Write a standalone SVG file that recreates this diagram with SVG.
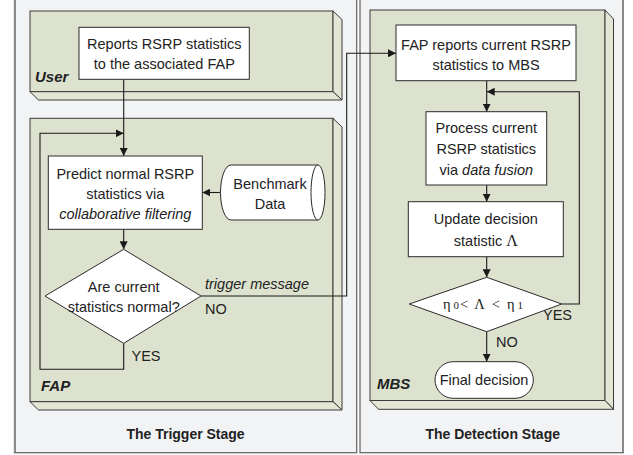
<svg xmlns="http://www.w3.org/2000/svg" width="633" height="455" viewBox="0 0 633 455">
<defs>
<style>
.stage{fill:#f2f3f5;stroke:#6a6a6a;stroke-width:1.3}
.pf{fill:#dde2cf;stroke:#3a3a3a;stroke-width:1}
.ps{fill:#e2e7d5;stroke:#3a3a3a;stroke-width:1}
.node{fill:#ffffff;stroke:#2a2a2a;stroke-width:1}
.ln{fill:none;stroke:#1a1a1a;stroke-width:1.1}
text{font-family:"Liberation Sans",Arial,sans-serif;font-size:14.5px;fill:#222}
.c{text-anchor:middle}
.it{font-style:italic}
.lbl{font-weight:bold;font-style:italic;font-size:15px}
.st{font-weight:bold;font-size:14px;text-anchor:middle}
.ser{font-family:"Liberation Serif","Times New Roman",serif}
</style>
<marker id="ah" viewBox="0 0 10 10" refX="10" refY="5" markerWidth="8" markerHeight="8" markerUnits="userSpaceOnUse" orient="auto">
<path d="M0,0 L10,5 L0,10 z" fill="#1a1a1a"/>
</marker>
</defs>

<g id="trigger-stage">
<rect class="stage" x="14.5" y="-5" width="342.2" height="457.7"/>
<line x1="15" y1="-5" x2="15" y2="452" stroke="#8a8a8a" stroke-width="2"/>
<text class="st" x="185.5" y="439">The Trigger Stage</text>
</g>
<g id="detection-stage">
<rect class="stage" x="360" y="-5" width="263.3" height="457.7"/>
<line x1="623" y1="-5" x2="623" y2="452" stroke="#8a8a8a" stroke-width="2"/>
<text class="st" x="492.7" y="439">The Detection Stage</text>
</g>

<g id="user-panel">
<rect class="pf" x="30" y="11" width="303" height="80.7"/>
<polygon class="ps" points="333,11 342,19.5 342,100 333,91.7"/>
<polygon class="ps" points="30,91.7 333,91.7 342,100 38.5,100"/>
<text class="lbl" x="35" y="82">User</text>
</g>
<g id="fap-panel">
<rect class="pf" x="30" y="118.3" width="303" height="283.4"/>
<polygon class="ps" points="333,118.3 342,127 342,410 333,401.7"/>
<polygon class="ps" points="30,401.7 333,401.7 342,410 38.5,410"/>
<text class="lbl" x="41" y="391">FAP</text>
</g>
<g id="mbs-panel">
<rect class="pf" x="370" y="10" width="235" height="390.5"/>
<polygon class="ps" points="605,10 613.5,19 613.5,409.3 605,400.5"/>
<polygon class="ps" points="370,400.5 605,400.5 613.5,409.3 378.5,409.3"/>
<text class="lbl" x="377" y="389">MBS</text>
</g>

<g id="connectors">
<line class="ln" x1="123.7" y1="79.3" x2="123.7" y2="156" marker-end="url(#ah)"/>
<polyline class="ln" points="123.7,343.3 123.7,369.3 40,369.3 40,133.3 123.7,133.3" marker-end="url(#ah)"/>
<line class="ln" x1="220" y1="192.5" x2="202.3" y2="192.5" marker-end="url(#ah)"/>
<line class="ln" x1="123.7" y1="229.3" x2="123.7" y2="249.3" marker-end="url(#ah)"/>
<polyline class="ln" points="201,296 346.7,296 346.7,53.3 396,53.3" marker-end="url(#ah)"/>
<line class="ln" x1="486.7" y1="80.7" x2="486.7" y2="111.7" marker-end="url(#ah)"/>
<polyline class="ln" points="561.7,304 579.3,304 579.3,91.7 486.7,91.7" marker-end="url(#ah)"/>
<line class="ln" x1="486.7" y1="185" x2="486.7" y2="201.7" marker-end="url(#ah)"/>
<line class="ln" x1="486.7" y1="256.7" x2="486.7" y2="277.3" marker-end="url(#ah)"/>
<line class="ln" x1="486.7" y1="331.7" x2="486.7" y2="361.7" marker-end="url(#ah)"/>
<text class="it" x="205" y="289">trigger message</text>
<text x="205" y="314">NO</text>
<text x="131.5" y="361">YES</text>
<text x="543" y="320">YES</text>
<text x="496" y="347">NO</text>
</g>

<g id="reports-rsrp">
<rect class="node" x="79" y="27.3" width="170.3" height="52"/>
<text class="c" x="164.3" y="48.5">Reports RSRP statistics</text>
<text class="c" x="164.3" y="69">to the associated FAP</text>
</g>
<g id="predict">
<rect class="node" x="48.3" y="156" width="154" height="73.3"/>
<text class="c" x="125.3" y="178.5">Predict normal RSRP</text>
<text class="c" x="125.3" y="198.5">statistics via</text>
<text class="c it" x="125.3" y="218.5">collaborative filtering</text>
</g>
<g id="benchmark">
<path class="node" d="M231,165 L318,165 A7,27.5 0 0 1 318,220 L231,220 A10.5,27.5 0 0 1 231,165 z"/>
<path class="node" d="M318,165 A7,27.5 0 0 0 318,220" fill="none"/>
<text class="c" x="270" y="188.5">Benchmark</text>
<text class="c" x="270" y="208.5">Data</text>
</g>
<g id="are-current">
<polygon class="node" points="123.7,249.3 201,296 123.7,343.3 45,296"/>
<text class="c" x="123.7" y="292">Are current</text>
<text class="c" x="123.7" y="312">statistics normal?</text>
</g>
<g id="fap-reports">
<rect class="node" x="396" y="25" width="180" height="55.7"/>
<text class="c" x="486" y="50">FAP reports current RSRP</text>
<text class="c" x="486" y="69.5">statistics to MBS</text>
</g>
<g id="process">
<rect class="node" x="426" y="111.7" width="120.7" height="73.3"/>
<text class="c" x="486.3" y="133">Process current</text>
<text class="c" x="486.3" y="154">RSRP statistics</text>
<text class="c" x="486.3" y="174.5">via <tspan class="it">data fusion</tspan></text>
</g>
<g id="update">
<rect class="node" x="408.3" y="201.7" width="155" height="55"/>
<text class="c" x="485.8" y="223.5">Update decision</text>
<text class="c" x="485.8" y="246">statistic <tspan class="ser" font-size="16">Λ</tspan></text>
</g>
<g id="threshold">
<polygon class="node" points="486.7,277.3 561.7,304 486.7,331.7 409.3,304"/>
<text class="ser" x="443" y="309" font-size="15" fill="#333">η<tspan font-size="11" dx="3">0</tspan><tspan dx="1">&lt;</tspan><tspan dx="6">Λ</tspan><tspan dx="7">&lt;</tspan><tspan dx="7">η</tspan><tspan font-size="11" dx="3">1</tspan></text>
</g>
<g id="final-decision">
<rect class="node" x="435" y="361.7" width="98.3" height="36.6" rx="18.3" ry="18.3"/>
<text class="c" x="484" y="385">Final decision</text>
</g>
</svg>
